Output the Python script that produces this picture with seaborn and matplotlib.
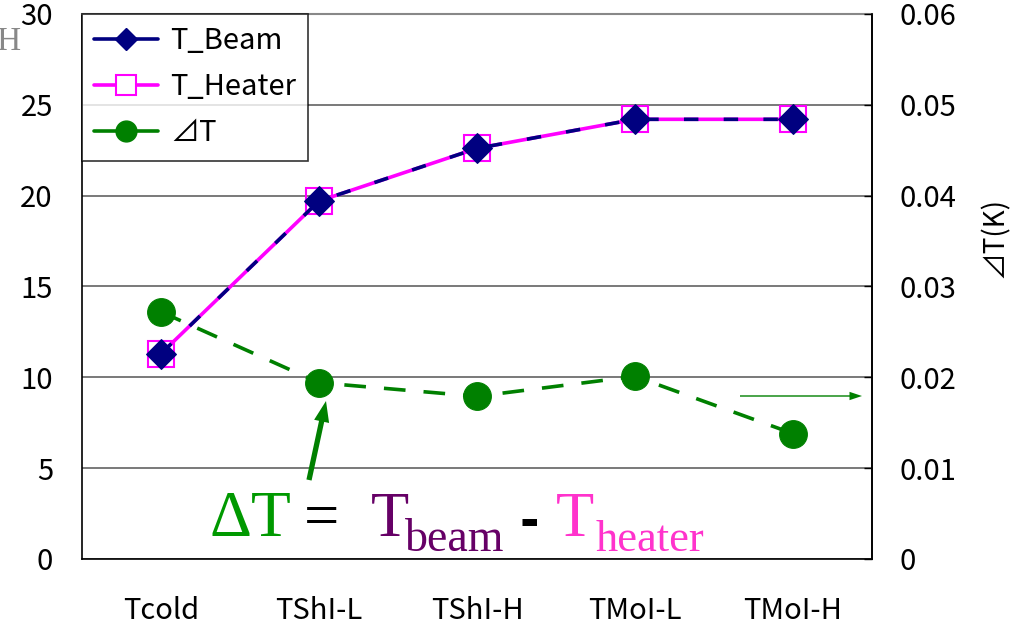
import matplotlib
matplotlib.use("Agg")
import matplotlib.pyplot as plt
from matplotlib.lines import Line2D
from matplotlib.ticker import FuncFormatter, FixedLocator
import seaborn as sns
import pandas as pd
import numpy as np

# data
categories = ["Tcold", "TShI-L", "TShI-H", "TMoI-L", "TMoI-H"]
t_beam = [11.3, 19.7, 22.6, 24.2, 24.2]
t_heater = [11.3, 19.7, 22.6, 24.2, 24.2]
delta_t = [0.0272, 0.0194, 0.0179, 0.0201, 0.0138]

left_ticks = [0, 5, 10, 15, 20, 25, 30]
right_ticks = [0, 0.01, 0.02, 0.03, 0.04, 0.05, 0.06]

df = pd.DataFrame({"pos": np.arange(len(categories)), "cat": categories,
                   "T_Beam": t_beam, "T_Heater": t_heater, "dT": delta_t})

sns.set_style("white")
# Japanese gothic font throughout (full size ⊿ glyph)
plt.rcParams["font.family"] = ["Noto Sans CJK JP", "DejaVu Sans"]
for k in ["text.color", "axes.labelcolor", "xtick.color", "ytick.color"]:
    plt.rcParams[k] = "black"

NAVY = "#000080"
MAGENTA = "#ff00ff"
GREEN = "#008000"

fig = plt.figure(figsize=(10.25, 6.28), dpi=100)
ax = fig.add_axes([0.080, 0.110, 0.7707, 0.8678])

# heater first (open squares), beam on top with dashed navy line
sns.lineplot(data=df, x="pos", y="T_Heater", ax=ax, color=MAGENTA, lw=2.6,
             marker="s", markersize=19, markerfacecolor="none",
             markeredgecolor=MAGENTA, markeredgewidth=1.5, estimator=None,
             zorder=4)
sns.lineplot(data=df, x="pos", y="T_Beam", ax=ax, color=NAVY, lw=2.6,
             marker="D", markersize=15, markerfacecolor=NAVY,
             markeredgecolor=NAVY, estimator=None, zorder=5)
ax.lines[-1].set_linestyle((0, (4, 7)))

ax.set_xlim(-0.5, len(categories) - 0.5)
ax.set_ylim(0, 30)
ax.set_yticks(left_ticks)
ax.set_xticks(df["pos"])
ax.set_xticklabels(categories)
ax.xaxis.set_minor_locator(FixedLocator(np.arange(0.5, len(categories) - 0.5, 1)))
ax.tick_params(axis="x", which="major", length=0, pad=27, labelsize=21)
ax.tick_params(axis="x", which="minor", direction="in", length=7, width=1,
               color="black")
ax.tick_params(axis="y", length=0, pad=21, labelsize=21)
ax.set_xlabel("")
ax.set_ylabel("")
ax.yaxis.grid(True, color="#555555", lw=1.1)
ax.set_axisbelow(True)
for s in ["left", "bottom", "right"]:
    ax.spines[s].set_color("black")
    ax.spines[s].set_linewidth(1.2)
ax.spines["top"].set_color("#888888")
ax.spines["top"].set_linewidth(1.5)

ax2 = ax.twinx()
sns.lineplot(data=df, x="pos", y="dT", ax=ax2, color=GREEN, lw=2.6,
             marker="o", markersize=20, markerfacecolor=GREEN,
             markeredgecolor=GREEN, estimator=None)
ax2.lines[-1].set_linestyle((0, (6, 5)))
ax2.set_ylim(0, 0.06)
ax2.set_yticks(right_ticks)
ax2.yaxis.set_major_formatter(FuncFormatter(lambda v, p: "0" if v == 0 else f"{v:.2f}"))
ax2.tick_params(axis="y", direction="in", length=6, width=1, pad=20,
                labelsize=21, color="black")
ax2.set_xlabel("")
ax2.set_ylabel("⊿T(K)", fontsize=20, labelpad=0)
ax2.yaxis.set_label_coords(1.137, 0.59)
for s in ["left", "bottom", "top"]:
    ax2.spines[s].set_visible(False)
ax2.spines["right"].set_color("black")
ax2.spines["right"].set_linewidth(1.2)

handles = [
    Line2D([], [], color=NAVY, lw=2.6, marker="D", markersize=15,
           markerfacecolor=NAVY, markeredgecolor=NAVY),
    Line2D([], [], color=MAGENTA, lw=2.6, marker="s", markersize=19,
           markerfacecolor="white", markeredgecolor=MAGENTA, markeredgewidth=1.5),
    Line2D([], [], color=GREEN, lw=2.6, marker="o", markersize=20,
           markerfacecolor=GREEN, markeredgecolor=GREEN),
]
leg = ax2.legend(handles, ["T_Beam", "T_Heater", "⊿T"], loc="upper left",
                 bbox_to_anchor=(0, 1), borderaxespad=0, fontsize=21,
                 frameon=True, fancybox=False, edgecolor="black",
                 handlelength=2.2, markerscale=0.75, labelspacing=0.55,
                 borderpad=0.42, handletextpad=0.4)
leg.get_frame().set_linewidth(1.2)
leg.set_zorder(20)

# formula annotation
H = 628.0
W = 1025.0
serif = "Liberation Serif"
def ftext(x, y, s, size, color, weight="normal", family=serif):
    fig.text(x / W, 1 - y / H, s, fontsize=size, color=color, va="baseline",
             ha="left", family=family, weight=weight)

ftext(210, 536, "ΔT", 47, "#009900")
ftext(304, 536, "=", 45, "black")
ftext(371, 536, "T", 45, "#660066")
ftext(405, 551, "beam", 33, "#660066")
ftext(519, 536, "-", 34, "black", weight="bold", family="DejaVu Sans")
ftext(556, 536, "T", 45, "#ff33cc")
ftext(596, 551, "heater", 32, "#ff33cc")

ax.annotate("", xy=(326, H - 401), xytext=(309, H - 480), xycoords="figure pixels",
            textcoords="figure pixels",
            arrowprops=dict(facecolor=GREEN, edgecolor="none", width=3.8,
                            headwidth=11, headlength=15, shrink=0))
ax.annotate("", xy=(862, H - 396), xytext=(740, H - 396), xycoords="figure pixels",
            textcoords="figure pixels",
            arrowprops=dict(facecolor=GREEN, edgecolor="none", width=1.0,
                            headwidth=6, headlength=9, shrink=0))

# cut-off grey letter at the top-left edge
fig.text(-3 / W, 1 - 50 / H, "H", fontsize=24, color="#888888", family=serif,
         va="baseline", ha="left")

fig.savefig("out.png", dpi=100)
